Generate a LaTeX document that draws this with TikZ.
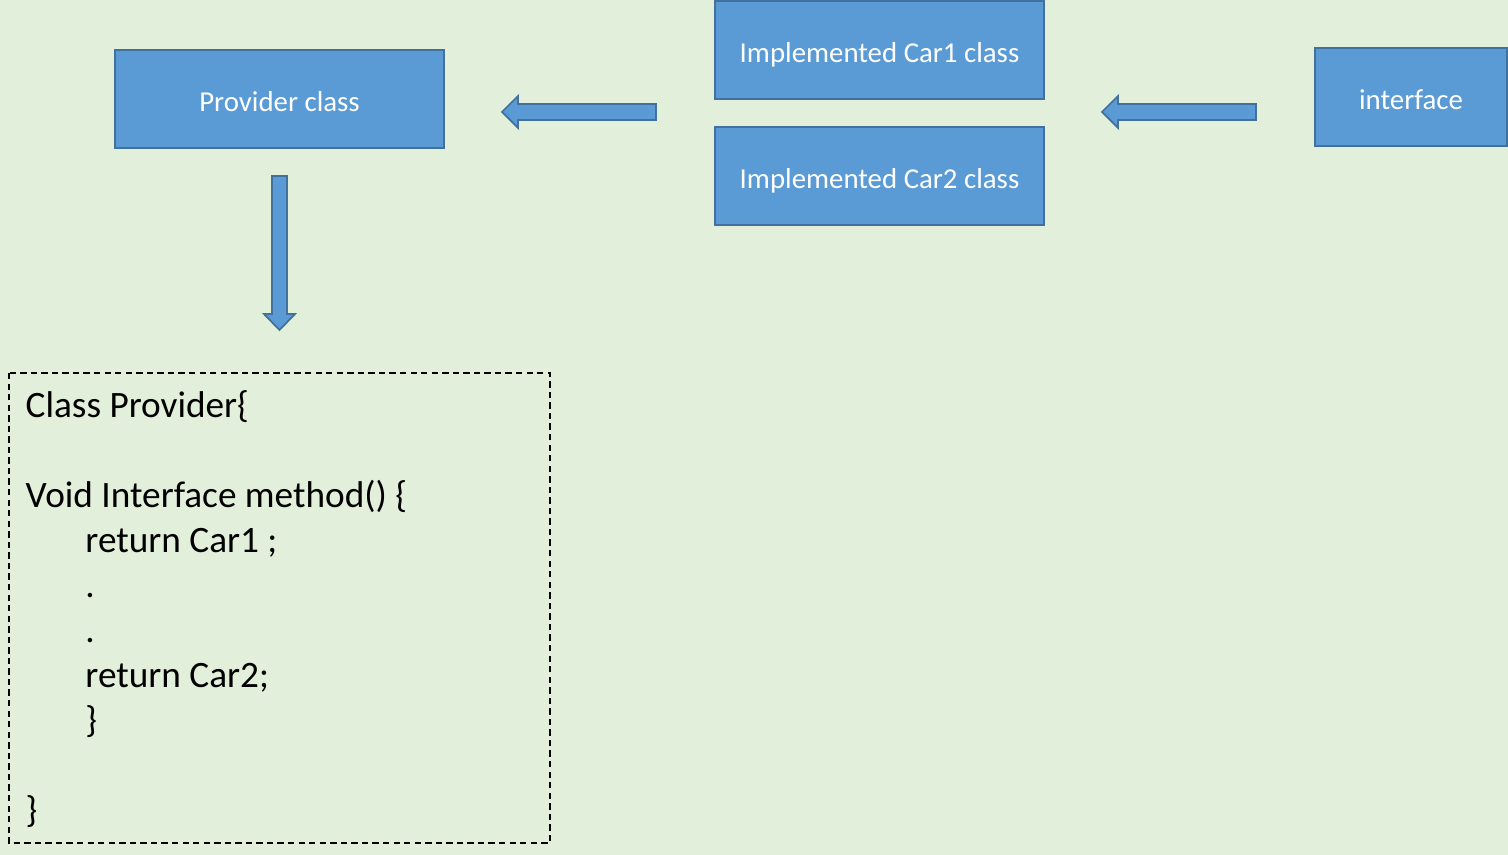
\documentclass[tikz,border=0pt]{standalone}
\usepackage{fontspec}
\setmainfont{Carlito}
\usepackage{xcolor}
\usepackage{tikz}
\usetikzlibrary{positioning}
\definecolor{bgGreen}{HTML}{E2EFDA}
\definecolor{boxBlue}{HTML}{5B9BD5}
\definecolor{edgeBlue}{HTML}{41719C}

\begin{document}
\begin{tikzpicture}[
  x=0.01cm, y=-0.01cm,
  box/.style={draw=edgeBlue,fill=boxBlue,line width=0.6pt,text=white,align=center,
    minimum width=3.29cm,minimum height=0.98cm,inner sep=2pt,text height=7.5pt,text depth=0.5pt,
    font=\fontsize{8.2}{10}\selectfont},
  blk/.style={draw=edgeBlue,fill=boxBlue,line width=0.5pt,line join=miter},
  codebox/.style={draw=black,dash pattern=on 1.8pt off 1.2pt,line width=0.5pt}
]
\fill[bgGreen] (0,0) rectangle (1508,855);
\useasboundingbox (0,0) rectangle (1508,855);

\node[box] (provider) at (279.5,99) {Provider class};
\node[box] (carone) at (879.5,50) {Implemented Car1 class};
\node[box] (cartwo) at (879.5,176) {Implemented Car2 class};
\node[box,minimum width=1.92cm] (iface) at (1411,97) {interface};

\draw[blk] (656,104) -- (518,104) -- (518,96) -- (502,112) -- (518,128) -- (518,120) -- (656,120) -- cycle;
\draw[blk] (1256,104) -- (1118,104) -- (1118,96) -- (1102,112) -- (1118,128) -- (1118,120) -- (1256,120) -- cycle;
\draw[blk] (272,176) -- (272,314) -- (264,314) -- (279.5,330) -- (295,314) -- (287,314) -- (287,176) -- cycle;

\draw[codebox] (9,373) rectangle (550,843);
\node[anchor=north west,inner sep=0pt,align=left,font=\fontsize{10.6}{12.8}\selectfont] (code) at (25,390)
  {Class Provider\{\\
   \strut\\
   Void Interface method() \{\\
   \hspace*{17pt}return Car1 ;\\
   \hspace*{17pt}.\\
   \hspace*{17pt}.\\
   \hspace*{17pt}return Car2;\\
   \hspace*{17pt}\}\\
   \strut\\
   \}};
\end{tikzpicture}
\end{document}
